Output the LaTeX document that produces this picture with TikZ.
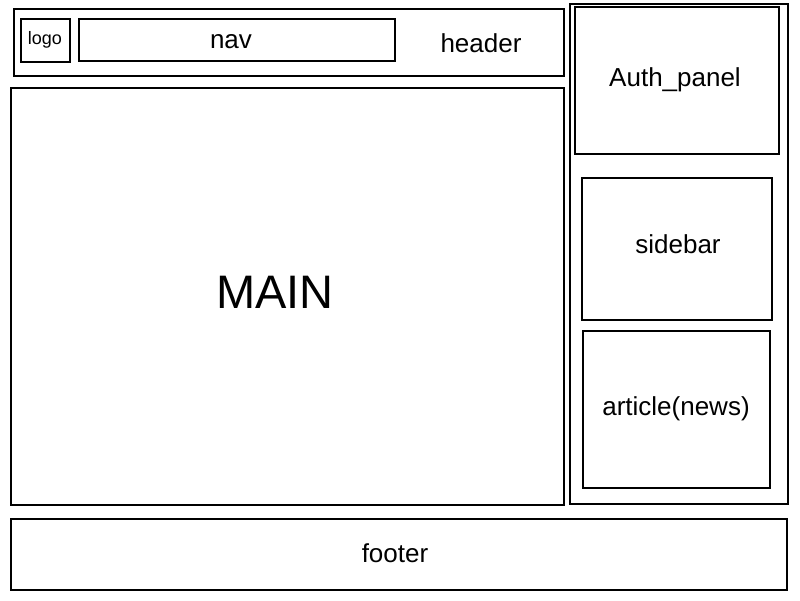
\documentclass[tikz,border=0pt]{standalone}
\usepackage{fontspec}
\setmainfont{Liberation Sans}
\begin{document}
\begin{tikzpicture}[x=1pt,y=-1pt,
  box/.style={draw=black,line width=2pt,rectangle,inner sep=0pt,anchor=north west},
  lbl/.style={inner sep=0pt,font=\fontsize{26}{30}\selectfont}]
\useasboundingbox[fill=white] (0,0) rectangle (800,600);
% header with logo and navigation
\node[box,minimum width=550pt,minimum height=67pt] (header) at (12.5,7.5) {};
\node[box,minimum width=49pt,minimum height=43pt,font=\fontsize{18}{20}\selectfont] (logo) at (19.5,17.5) {logo};
\node[box,minimum width=316pt,minimum height=42pt] (nav) at (77.5,17.5) {};
\node[lbl] (navtext) at (231,41.5) {nav};
\node[lbl] (headertext) at (481,43) {header};
% main content
\node[box,minimum width=553pt,minimum height=417pt] (main) at (9.5,86.5) {};
\node[inner sep=0pt,font=\fontsize{47}{50}\selectfont] (maintext) at (275,292) {MAIN};
% right column
\node[box,minimum width=218pt,minimum height=500pt] (aside) at (568.5,2.5) {};
\node[box,minimum width=204pt,minimum height=147pt] (auth) at (573.5,5.5) {};
\node[lbl] (authtext) at (675,79.5) {Auth\_panel};
\node[box,minimum width=190pt,minimum height=142pt] (sidebar) at (580.5,176.5) {};
\node[lbl] (sidebartext) at (678,244) {sidebar};
\node[box,minimum width=187pt,minimum height=157pt] (article) at (581.5,329.5) {};
\node[lbl] (articletext) at (676,408.5) {article(news)};
% footer
\node[box,minimum width=776pt,minimum height=71pt] (footer) at (9.5,517.5) {};
\node[lbl] (footertext) at (395,553) {footer};
\end{tikzpicture}
\end{document}
